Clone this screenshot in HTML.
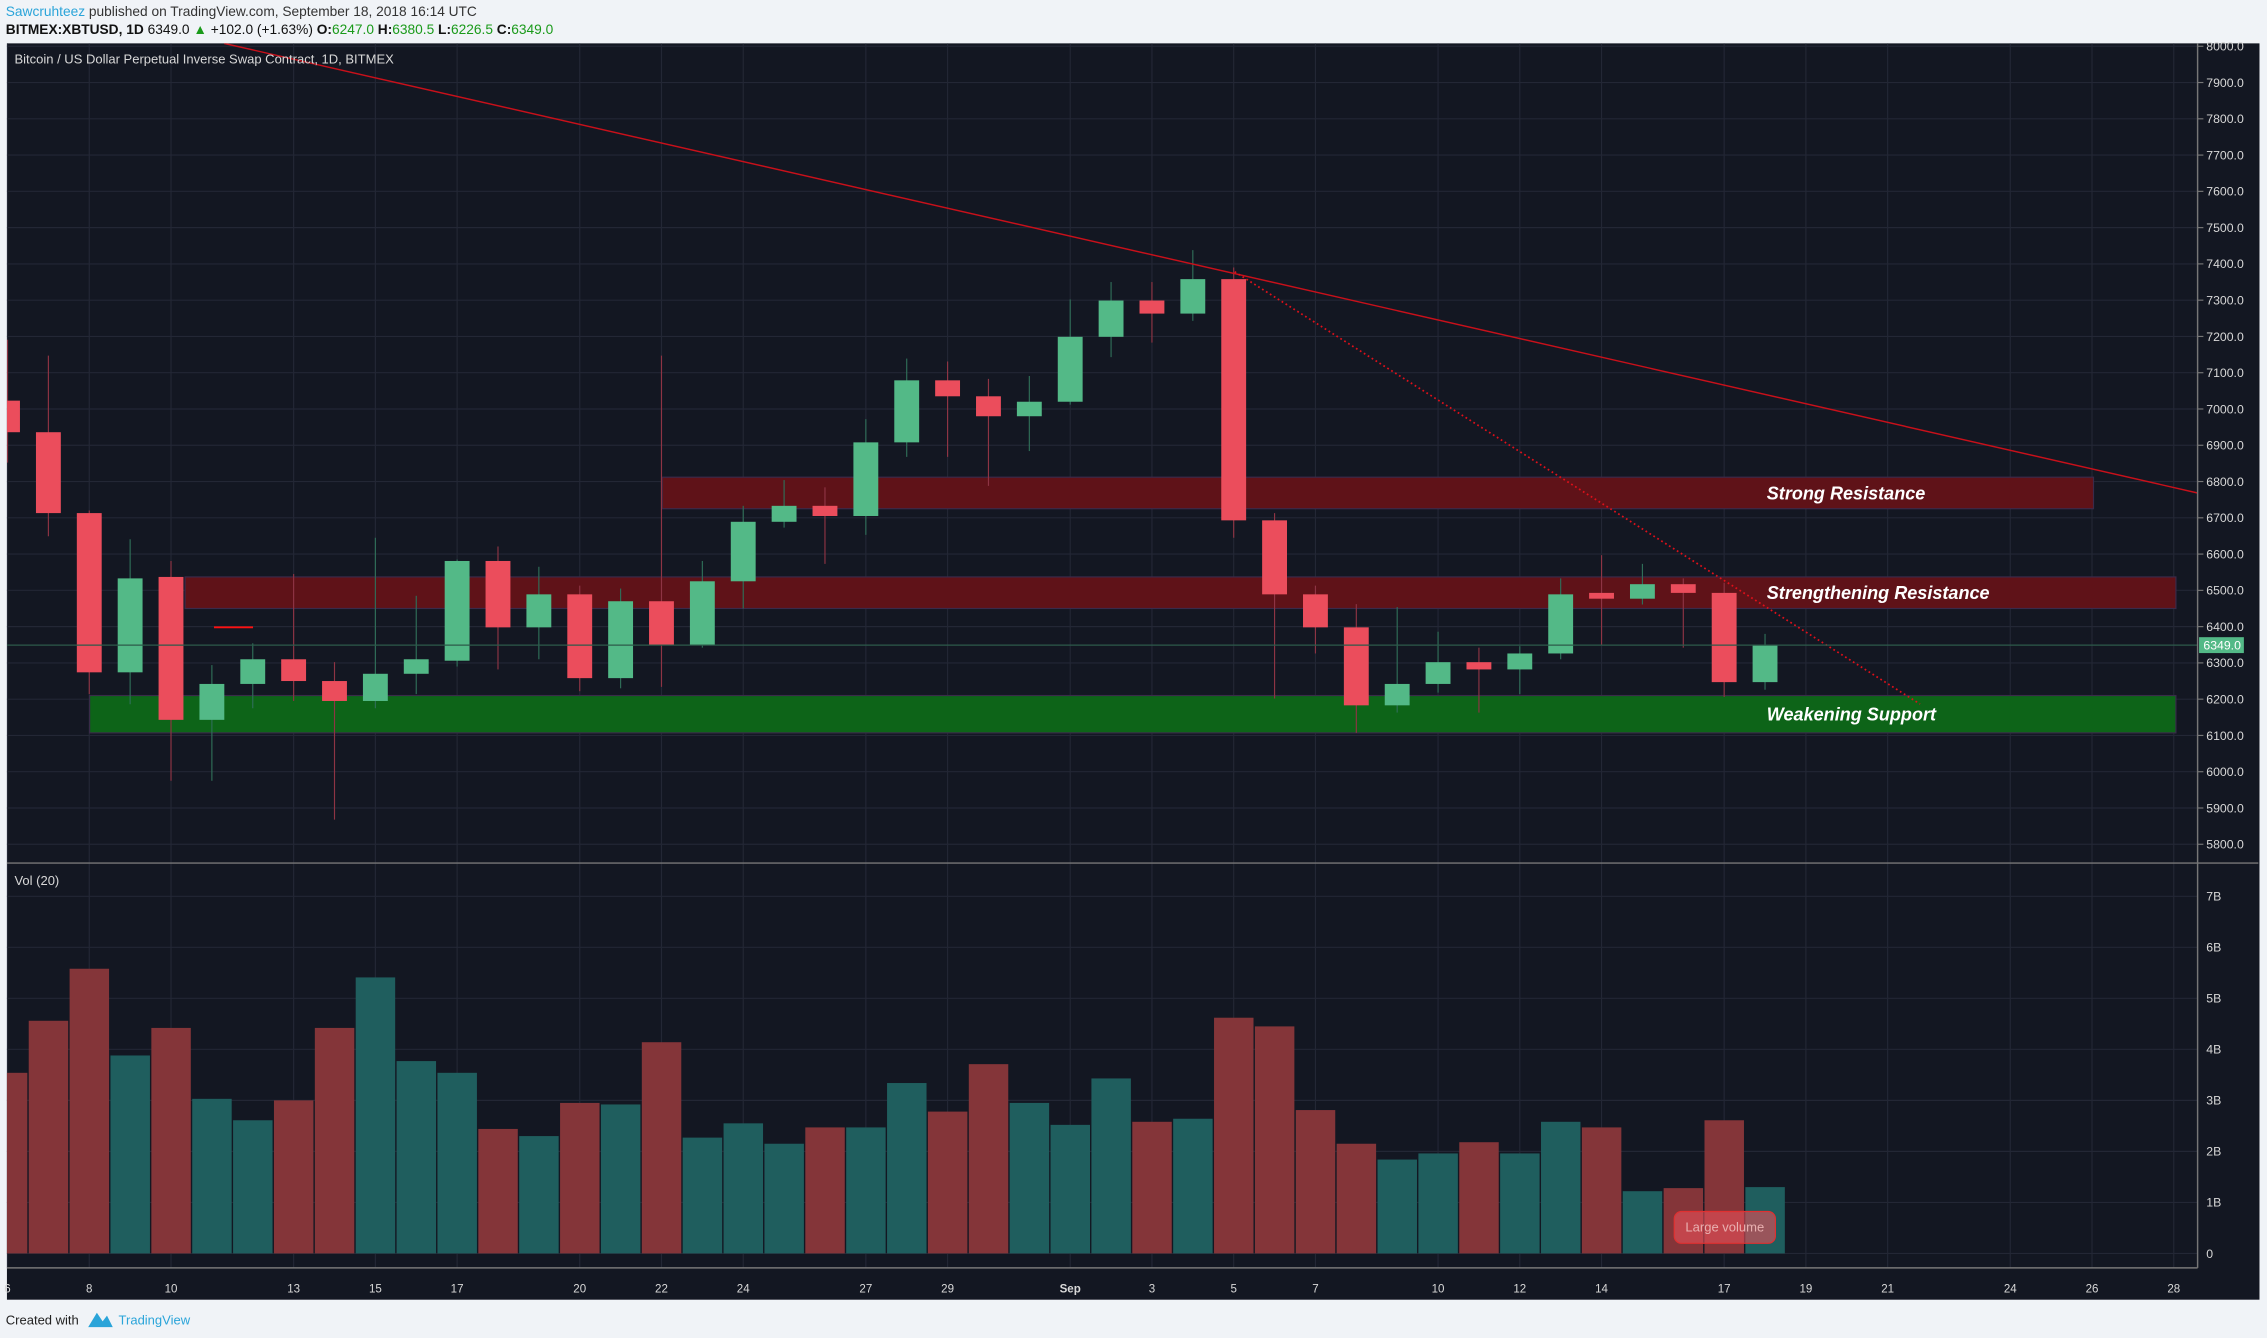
<!DOCTYPE html>
<html><head><meta charset="utf-8">
<style>
html,body{margin:0;padding:0;background:#f0f3f7;}
svg{display:block;}
text{font-family:"Liberation Sans","DejaVu Sans",sans-serif;}
</style></head>
<body>
<svg id="c" width="2267" height="1338" viewBox="0 0 1568 925.5" preserveAspectRatio="none" xmlns="http://www.w3.org/2000/svg">
  <defs><clipPath id="pane"><rect x="4.8" y="30" width="1515.2" height="847"/></clipPath></defs>
  <rect x="0" y="0" width="1568" height="925.5" fill="#f0f3f7"/>
  <text x="4" y="11" font-size="9.5" fill="#333"><tspan fill="#2aa4d9">Sawcruhteez</tspan> published on TradingView.com, September 18, 2018 16:14 UTC</text>
  <text x="4" y="23.5" font-size="9.5" fill="#111"><tspan font-weight="bold">BITMEX:XBTUSD, 1D</tspan> 6349.0 <tspan fill="#1a9a1a">▲</tspan> +102.0 (+1.63%) <tspan font-weight="bold">O:</tspan><tspan fill="#1a9a1a">6247.0</tspan> <tspan font-weight="bold">H:</tspan><tspan fill="#1a9a1a">6380.5</tspan> <tspan font-weight="bold">L:</tspan><tspan fill="#1a9a1a">6226.5</tspan> <tspan font-weight="bold">C:</tspan><tspan fill="#1a9a1a">6349.0</tspan></text>
  <rect x="4.8" y="30" width="1558" height="869" fill="#131722"/>
  <g id="grid"></g>
  <g id="zones" clip-path="url(#pane)"></g>
  <g id="vol" clip-path="url(#pane)"></g>
  <g id="candles" clip-path="url(#pane)"></g>
  <g id="draw" clip-path="url(#pane)"></g>
  <g id="axes"></g>
</svg>
<script>
const days = [6,7,8,9,10,11,12,13,14,15,16,17,18,19,20,21,22,23,24,25,26,27,28,29,30,31,1,2,3,4,5,6,7,8,9,10,11,12,13,14,15,16,17,18];
const opens  = [7023,6936,6713,6274,6537,6143,6242,6310,6250,6195,6270,6306,6581,6398,6489,6258,6470,6350,6525,6689,6733,6705,6908,7079,7035,6980,7020,7199,7299,7263,7358,6693,6489,6398,6183,6242,6302,6282,6326,6493,6477,6517,6493,6247];
const highs  = [7191,7147,6720,6641,6581,6294,6354,6545,6302,6645,6485,6585,6621,6565,6513,6505,7147,6581,6733,6804,6784,6972,7139,7131,7083,7091,7302,7350,7350,7438,7390,6713,6513,6462,6454,6386,6342,6346,6533,6597,6573,6533,6521,6380];
const lows   = [6852,6649,6214,6186,5975,5975,6175,6195,5868,6175,6214,6290,6282,6310,6222,6230,6234,6342,6450,6673,6573,6653,6868,6868,6788,6884,7012,7143,7183,7243,6645,6202,6326,6107,6163,6218,6163,6214,6310,6350,6461,6342,6206,6226];
const closes = [6936,6713,6274,6533,6143,6242,6310,6250,6195,6270,6310,6581,6398,6489,6258,6470,6350,6525,6689,6733,6705,6908,7079,7035,6980,7020,7199,7299,7263,7358,6693,6489,6398,6183,6242,6302,6282,6326,6489,6477,6517,6493,6247,6349];
const volumes = [3.54,4.56,5.58,3.88,4.42,3.03,2.61,3.0,4.42,5.41,3.77,3.54,2.44,2.30,2.95,2.92,4.14,2.27,2.55,2.15,2.47,2.47,3.34,2.78,3.71,2.95,2.52,3.43,2.58,2.64,4.62,4.45,2.81,2.15,1.84,1.96,2.18,1.96,2.58,2.47,1.22,1.28,2.61,1.30];
const priceTicks = [8000,7900,7800,7700,7600,7500,7400,7300,7200,7100,7000,6900,6800,6700,6600,6500,6400,6300,6200,6100,6000,5900,5800];
const volTicks = [0,1,2,3,4,5,6,7];
const volTickLabels = ["0","1B","2B","3B","4B","5B","6B","7B"];
const dateTickIdx = [0,2,4,7,9,11,14,16,18,21,23,26,28,30,32,35,37,39,42,44,46,49,51,53];
const dateTickLabels = ["6","8","10","13","15","17","20","22","24","27","29","Sep","3","5","7","10","12","14","17","19","21","24","26","28"];
const lastPrice = 6349;

const xDay = i => 5.2 + 28.27*i;
const yP = p => 32 + (8000-p)/100*25.09;
const yV = v => 867 - v*35.29;
const NS = "http://www.w3.org/2000/svg";
function mk(parent, tag, attrs){const e=document.createElementNS(NS,tag);for(const k in attrs)e.setAttribute(k,attrs[k]);document.getElementById(parent).appendChild(e);return e;}

dateTickIdx.forEach(i=>{const l=mk('grid','line',{x1:xDay(i),x2:xDay(i),y1:30,y2:877,stroke:'#232735','stroke-width':0.8});

});
priceTicks.forEach(p=>{const l=mk('grid','line',{x1:4.8,x2:1520,y1:yP(p),y2:yP(p),stroke:'#232735','stroke-width':0.8});

});
volTicks.forEach(v=>{const l=mk('grid','line',{x1:4.8,x2:1520,y1:yV(v),y2:yV(v),stroke:'#232735','stroke-width':0.8});

});

function zone(name,x1,x2,p1,p2,fill,label,lx){
  const r=mk('zones','rect',{x:x1,y:yP(p1),width:x2-x1,height:yP(p2)-yP(p1),fill:fill,stroke:'#3a2a4a','stroke-width':0.8});
  
  
  const t=mk('draw','text',{x:lx,y:(yP(p1)+yP(p2))/2+4.5,'font-size':12.5,'font-weight':'bold','font-style':'italic',fill:'#fff'});
  t.textContent=label;
  
  
}
zone('strong-resistance-zone',458,1448,6812,6725,'#5f1218','Strong Resistance',1222);
zone('strengthening-resistance-zone',128,1505,6537,6450,'#5f1218','Strengthening Resistance',1222);
zone('weakening-support-zone',62,1505,6210,6107,'#0d6418','Weakening Support',1222);

volumes.forEach((v,i)=>{const up=closes[i]>=opens[i];
 const r=mk('vol','rect',{x:xDay(i)-13.6,y:yV(v),width:27.3,height:yV(0)-yV(v),fill:up?'#1f5e5e':'#843539'});
 
 });

opens.forEach((o,i)=>{const c=closes[i],up=c>=o,x=xDay(i);
 const w=mk('candles','line',{x1:x,x2:x,y1:yP(highs[i]),y2:yP(lows[i]),stroke:up?'#2f6e58':'#8e3444','stroke-width':0.8});
 
 
 const top=yP(Math.max(o,c)),bot=yP(Math.min(o,c));
 const b=mk('candles','rect',{x:x-8.6,y:top,width:17.2,height:Math.max(1.5,bot-top),fill:up?'#53b987':'#eb4d5c'});
 
 });

const tl=mk('draw','line',{x1:155,y1:30,x2:1520,y2:341,stroke:'#c8101a','stroke-width':1});


const dl=mk('draw','line',{x1:854,y1:188,x2:1328,y2:487,stroke:'#e0101a','stroke-width':1.2,'stroke-dasharray':'1.2 2'});


const hl=mk('draw','line',{x1:148,y1:yP(6398),x2:175,y2:yP(6398),stroke:'#ff1010','stroke-width':1.3});


const pl=mk('draw','line',{x1:4.8,y1:yP(lastPrice),x2:1520,y2:yP(lastPrice),stroke:'#2c5a4a','stroke-width':0.8});



const a1=mk('axes','line',{x1:1520,x2:1520,y1:30,y2:877,stroke:'#777','stroke-width':1});


const a2=mk('axes','line',{x1:4.8,x2:1562,y1:597,y2:597,stroke:'#777','stroke-width':1});


const a3=mk('axes','line',{x1:4.8,x2:1520,y1:877,y2:877,stroke:'#777','stroke-width':1});


priceTicks.forEach(p=>{
 const t=mk('axes','line',{x1:1520,x2:1524,y1:yP(p),y2:yP(p),stroke:'#777','stroke-width':0.8});
 
 
 const l=mk('axes','text',{x:1526,y:yP(p)+3,'font-size':8.5,fill:'#d8d8d8'});l.textContent=p.toFixed(1);
 
 });
volTicks.forEach((v,k)=>{
 const l=mk('axes','text',{x:1526,y:yV(v)+3,'font-size':8.5,fill:'#d8d8d8'});l.textContent=volTickLabels[k];
 
 });
dateTickIdx.forEach((i,k)=>{
 const l=mk('axes','text',{x:xDay(i),y:894,'font-size':8,fill:'#d8d8d8','text-anchor':'middle','font-weight':dateTickLabels[k]==='Sep'?'bold':'normal'});l.textContent=dateTickLabels[k];
 
 });
const pb=mk('axes','rect',{x:1521,y:yP(lastPrice)-5.5,width:31,height:11,fill:'#53b987'});


const pt=mk('axes','text',{x:1524,y:yP(lastPrice)+3,'font-size':8.5,fill:'#fff'});pt.textContent=lastPrice.toFixed(1);


const tt=mk('axes','text',{x:10,y:44,'font-size':9,fill:'#d8d8d8'});tt.textContent='Bitcoin / US Dollar Perpetual Inverse Swap Contract, 1D, BITMEX';


const vt=mk('axes','text',{x:10,y:612,'font-size':9,fill:'#d8d8d8'});vt.textContent='Vol (20)';


const lb=mk('axes','rect',{x:1158,y:838,width:70,height:22,rx:5,fill:'rgba(235,80,90,0.6)',stroke:'#e03030','stroke-width':0.8});


const lt=mk('axes','text',{x:1193,y:852,'font-size':9,fill:'#e8b0b0','text-anchor':'middle'});lt.textContent='Large volume';


const ft=mk('axes','text',{x:4,y:916,'font-size':9,fill:'#222'});ft.textContent='Created with';


const fi=mk('axes','path',{d:'M61 918 L67 908 L71 914 L74 910 L78 918 Z',fill:'#2aa4d9'});


const fl=mk('axes','text',{x:82,y:916,'font-size':9,fill:'#2aa4d9'});fl.textContent='TradingView';


</script>
</body></html>
